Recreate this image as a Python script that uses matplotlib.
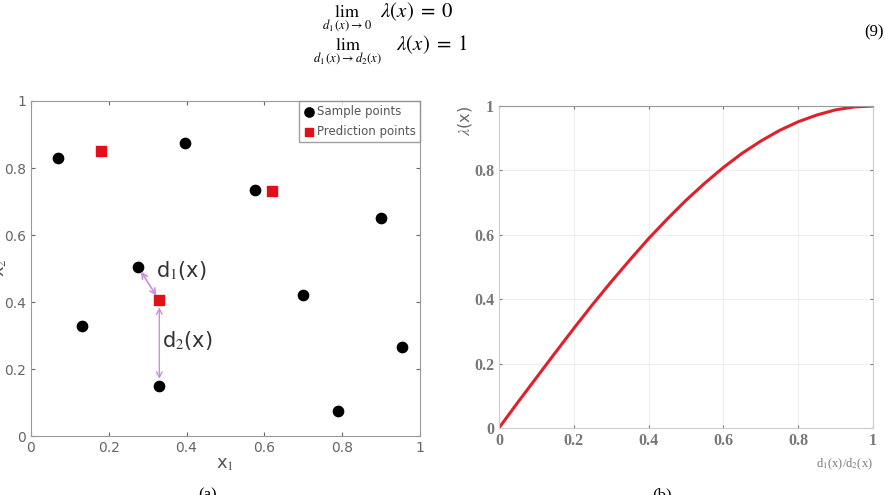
import matplotlib.pyplot as plt

plt.rcParams['mathtext.fontset'] = 'stix'

# sample and prediction points (panel a)
sample_x = [0.07, 0.13, 0.275, 0.33, 0.395, 0.575, 0.70, 0.79, 0.90, 0.955]
sample_y = [0.83, 0.33, 0.505, 0.15, 0.875, 0.735, 0.42, 0.075, 0.65, 0.265]
pred_x = [0.18, 0.62, 0.33]
pred_y = [0.85, 0.73, 0.405]

# lambda curve (panel b)
ratio = [0, 0.05, 0.1, 0.15, 0.2, 0.25, 0.3, 0.35, 0.4, 0.45, 0.5,
         0.55, 0.6, 0.65, 0.7, 0.75, 0.8, 0.85, 0.9, 0.95, 1.0]
lam = [0, 0.079, 0.156, 0.233, 0.309, 0.383, 0.454, 0.522, 0.588, 0.649, 0.707,
       0.760, 0.809, 0.853, 0.891, 0.924, 0.951, 0.972, 0.988, 0.997, 1.0]

ticks = [0, 0.2, 0.4, 0.6, 0.8, 1]
tick_labels = ['0', '0.2', '0.4', '0.6', '0.8', '1']

fig = plt.figure(figsize=(8.85, 4.95), dpi=100)

# equation at the top
fig.text(0.392, 0.9657, r'$\lim_{d_1(x)\to 0}$', fontsize=13, ha='center', va='baseline')
fig.text(0.429, 0.9657, r'$\lambda(x)\;=\;0$', fontsize=15, ha='left', va='baseline')
fig.text(0.392, 0.899, r'$\lim_{d_1(x)\to d_2(x)}$', fontsize=13, ha='center', va='baseline')
fig.text(0.447, 0.899, r'$\lambda(x)\;=\;1$', fontsize=15, ha='left', va='baseline')
fig.text(0.999, 0.935, '(9)', fontsize=12, family='Liberation Serif', ha='right', va='center')

# ---- panel (a)
ax1 = fig.add_axes([0.035, 0.119, 0.4395, 0.677])
ax1.scatter(sample_x, sample_y, s=55, c='black', marker='o', label='Sample points', zorder=3)
ax1.scatter(pred_x, pred_y, s=45, c='#e3101c', marker='s', label='Prediction points', zorder=3)

ax1.annotate('', xy=(pred_x[2], pred_y[2]), xytext=(sample_x[2], sample_y[2]),
             arrowprops=dict(arrowstyle='<->', color='#c98fdc', lw=1.2, shrinkA=4, shrinkB=4))
ax1.annotate('', xy=(pred_x[2], pred_y[2]), xytext=(sample_x[3], sample_y[3]),
             arrowprops=dict(arrowstyle='<->', color='#c98fdc', lw=1.0, shrinkA=5, shrinkB=5))
ax1.text(0.322, 0.475, r'd$_1$(x)', fontsize=15, color='#333333')
ax1.text(0.338, 0.265, r'd$_2$(x)', fontsize=15, color='#333333')

ax1.set_xlim(0, 1)
ax1.set_ylim(0, 1)
ax1.set_xticks(ticks)
ax1.set_xticklabels(tick_labels)
ax1.set_yticks(ticks)
ax1.set_yticklabels(tick_labels)
ax1.tick_params(direction='in', length=3, labelsize=10, colors='#666666', top=True, right=True)
for s in ax1.spines.values():
    s.set_color('#999999')
ax1.set_xlabel(r'x$_1$', fontsize=13, color='#555555', labelpad=0)
fig.text(0.0, 0.46, r'x$_2$', fontsize=13, color='#555555', rotation=90, ha='center', va='center')

leg = ax1.legend(loc='upper right', fontsize=8.5, borderaxespad=0, handletextpad=0.2,
                 handlelength=1.0, markerscale=0.9, fancybox=False, edgecolor='#888888',
                 borderpad=0.35, labelspacing=0.55)
for t in leg.get_texts():
    t.set_color('#555555')

fig.text(0.234, 0.0, '(a)', fontsize=12, family='Liberation Serif', ha='center', va='center')

# ---- panel (b)
ax2 = fig.add_axes([0.5638, 0.1354, 0.4226, 0.6505])
ax2.plot(ratio, lam, color='#e0202a', lw=2.2)
ax2.set_xlim(0, 1)
ax2.set_ylim(0, 1)
ax2.set_xticks(ticks)
ax2.set_xticklabels(tick_labels)
ax2.set_yticks(ticks)
ax2.set_yticklabels(tick_labels)
ax2.grid(True, color='#eeeeee', lw=0.8)
ax2.tick_params(direction='in', length=2, labelsize=11.5, colors='#777777', top=True, right=True)
for lab in ax2.get_xticklabels() + ax2.get_yticklabels():
    lab.set_family('Liberation Serif')
    lab.set_fontweight('bold')
for s in ax2.spines.values():
    s.set_color('#cccccc')
ax2.spines['top'].set_color('#999999')
ax2.text(-0.068, 1.0, r'$\lambda$(x)', transform=ax2.transAxes, rotation=90, fontsize=11.5,
         color='#666666', ha='right', va='top')
ax2.text(1.0, -0.09, r'd$_1$(x)/d$_2$(x)', transform=ax2.transAxes, fontsize=9,
         family='Liberation Serif', color='#777777', ha='right', va='top')

fig.text(0.748, 0.0, '(b)', fontsize=12, family='Liberation Serif', ha='center', va='center')

fig.savefig('out.png', dpi=100)
